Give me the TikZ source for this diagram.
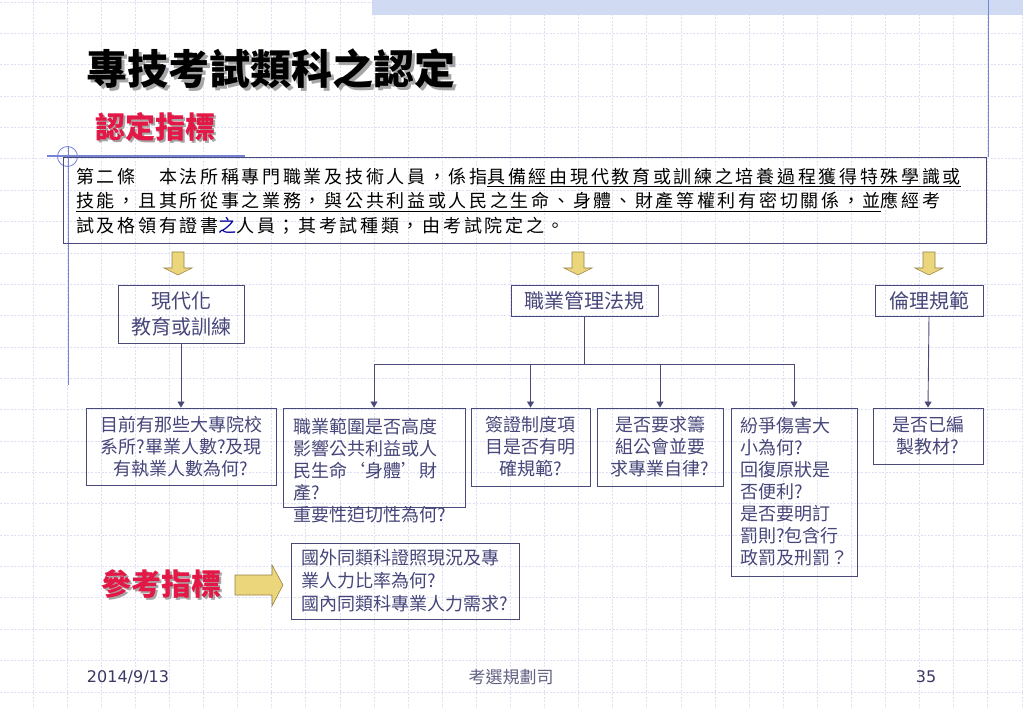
\documentclass[tikz,border=0pt]{standalone}
\usepackage{fontspec}
\setmainfont{DejaVu Sans}
\newfontfamily\cjk{Noto Sans CJK TC}
\newfontfamily\lawfont{Noto Sans CJK TC}[LetterSpace=15]
\usetikzlibrary{arrows.meta}

\definecolor{gridc}{RGB}{222,222,244}
\definecolor{frame}{RGB}{74,74,122}
\definecolor{boxtext}{RGB}{70,70,122}
\definecolor{tmpl}{RGB}{118,132,212}
\definecolor{band}{RGB}{208,218,242}
\definecolor{gold}{RGB}{236,214,124}
\definecolor{golddark}{RGB}{150,128,70}
\definecolor{redhead}{RGB}{228,24,70}
\definecolor{footc}{RGB}{58,58,100}

\newcommand\shadowed[2]{\makebox[0pt][l]{\hspace{#1}\raisebox{-#1}{\color{black!35}#2}}#2}

\tikzset{
  gridline/.style={draw=gridc, dash pattern=on 2pt off 1.5pt, line width=0.7pt},
  box/.style={draw=frame, line width=0.9pt, text=boxtext, inner sep=0pt,
    font=\cjk\fontsize{18}{22}\selectfont, align=center},
  headbox/.style={box, font=\cjk\fontsize{20}{26}\selectfont},
  conn/.style={draw=frame, line width=0.9pt},
  tip/.style={-{Triangle[width=7pt,length=6pt]}},
  yarrow/.style={fill=gold, draw=golddark, line width=0.6pt},
  downarr/.pic={\path[yarrow] (-6,0) -- (6,0) -- (6,16) -- (14,16) -- (0,23)
    -- (-14,16) -- (-6,16) -- cycle;},
  rightarr/.pic={\path[yarrow] (0,-10) -- (37,-10) -- (37,-20) -- (48,0)
    -- (37,21) -- (37,10) -- (0,10) -- cycle;}
}

\begin{document}
\begin{tikzpicture}[x=1pt, y=-1pt]
\useasboundingbox (0,0) rectangle (1023,708);
\fill[white] (0,0) rectangle (1023,708);

% slide background
\foreach \gx in {0,...,29}
  \draw[gridline] ({33+34.1*\gx},0) -- ({33+34.1*\gx},708);
\foreach \gy in {0,...,22}
  \draw[gridline] (0,{2+31.36*\gy}) -- (1023,{2+31.36*\gy});
\fill[band] (372,0) rectangle (1023,15);
\draw[tmpl, line width=1pt] (988,0) -- (988,157);
\draw[tmpl, line width=1pt] (68,146) -- (68,385);
\draw[tmpl, line width=1.2pt] (47,156) -- (245,156);
\draw[tmpl, line width=0.8pt] (67.5,156.5) circle (10);

\node[anchor=west, text=black, font=\cjk\bfseries\fontsize{41}{41}\selectfont] (title) at (83,70) {\shadowed{3pt}{專技考試類科之認定}};
\node[anchor=west, text=redhead, font=\cjk\bfseries\fontsize{30}{30}\selectfont] (crit) at (92,128) {\shadowed{2pt}{認定指標}};

\node[draw=frame, line width=0.9pt, anchor=north west, minimum width=923pt, minimum height=86pt, inner sep=0pt] (lawbox) at (63,157) {};
\node[anchor=west, align=left, inner sep=0pt, font=\lawfont\fontsize{18}{24.5}\selectfont] (law) at (76,201) {%
第二條　本法所稱專門職業及技術人員，係指\underline{具備經由現代教育或訓練之培養過程獲得特殊學識或}\\
\underline{技能，且其所從事之業務，與公共利益或人民之生命、身體、財產等權利有密切關係，並}應經考\\
試及格領有證書{\color{blue!60!black}之}人員；其考試種類，由考試院定之。};

\pic at (178,252) {downarr};
\pic at (578,252) {downarr};
\pic at (929,252) {downarr};

\node[headbox, minimum width=126pt, minimum height=58pt] (modern) at (181,314) {現代化\\教育或訓練};
\node[headbox, minimum width=147pt, minimum height=31pt] (mgmt) at (584.5,300.5) {職業管理法規};
\node[headbox, minimum width=108pt, minimum height=31pt] (ethics) at (929,300.5) {倫理規範};

\node[box, minimum width=190pt, minimum height=77pt] (schools) at (181,446.5) {目前有那些大專院校\\系所?畢業人數?及現\\有執業人數為何?};
\node[box, minimum width=182pt, minimum height=99pt] (scope) at (374,457.5) {};
\node[box, draw=none, align=left, anchor=north west] (scopetxt) at (293,418) {職業範圍是否高度\\影響公共利益或人\\民生命‘身體’財\\產?\\重要性迫切性為何?};
\node[box, minimum width=119pt, minimum height=78pt] (visa) at (530.5,447) {簽證制度項\\目是否有明\\確規範?};
\node[box, minimum width=126pt, minimum height=78pt] (guild) at (660,447) {是否要求籌\\組公會並要\\求專業自律?};
\node[box, align=left, minimum width=126pt, minimum height=168pt] (dispute) at (794,492) {紛爭傷害大\\小為何?\\回復原狀是\\否便利?\\是否要明訂\\罰則?包含行\\政罰及刑罰？};
\node[box, minimum width=110pt, minimum height=56pt] (texts) at (928,436) {是否已編\\製教材?};

\draw[conn, tip] (modern.south) -- (schools.north);
\draw[conn] (mgmt.south) -- ++(0,48) coordinate (split);
\draw[conn, tip] (split) -| (scope.north);
\draw[conn, tip] (split) -| (visa.north);
\draw[conn, tip] (split) -| (guild.north);
\draw[conn, tip] (split) -| (dispute.north);
\draw[conn, tip] (ethics.south) -- (texts.north);

\node[anchor=west, text=redhead, font=\cjk\bfseries\fontsize{30}{30}\selectfont] (refhead) at (98,585) {\shadowed{2pt}{參考指標}};
\pic at (235,585) {rightarr};
\node[box, align=left, font=\cjk\fontsize{18}{23}\selectfont, minimum width=228pt, minimum height=76pt] (abroad) at (405,581) {國外同類科證照現況及專\\業人力比率為何?\\國內同類科專業人力需求?};

\node[text=footc, font=\fontsize{16}{16}\selectfont] (date) at (128,677) {2014/9/13};
\node[text=footc!80, font=\cjk\fontsize{17}{17}\selectfont] (dept) at (511,677) {考選規劃司};
\node[text=footc, font=\fontsize{16}{16}\selectfont] (page) at (926,677) {35};
\end{tikzpicture}
\end{document}
